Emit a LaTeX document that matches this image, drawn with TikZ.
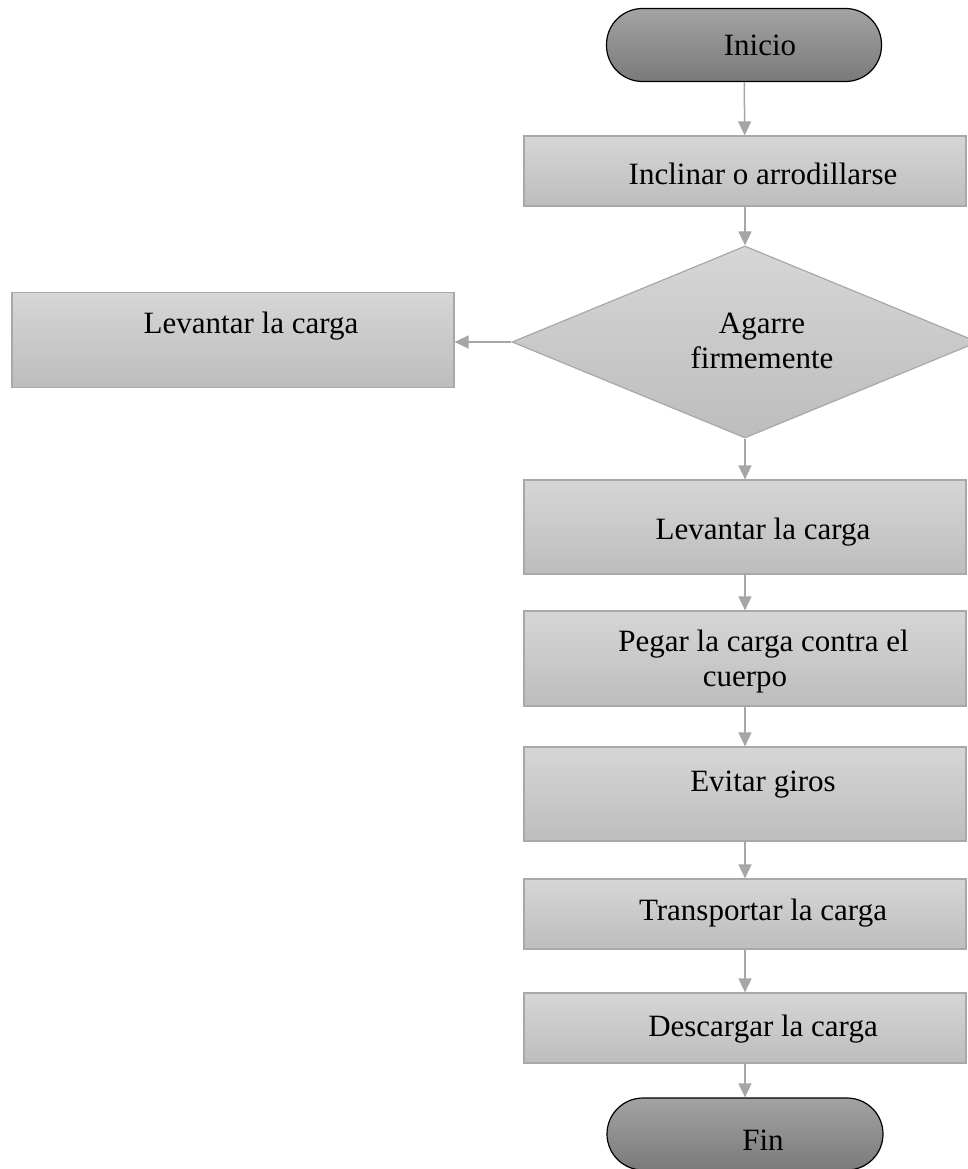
\documentclass[tikz,border=0pt]{standalone}
\usepackage{fontspec}
\setmainfont{Liberation Serif}
\usetikzlibrary{shapes.geometric,arrows.meta}
\definecolor{boxtop}{HTML}{D6D6D6}
\definecolor{boxbot}{HTML}{BDBDBD}
\definecolor{boxline}{HTML}{A8A8A8}
\definecolor{termtop}{HTML}{A3A3A3}
\definecolor{termbot}{HTML}{7A7A7A}
\definecolor{arrowgray}{HTML}{A6A6A6}
\tikzset{
  procbox/.style={rectangle, draw=boxline, line width=1.2pt, top color=boxtop, bottom color=boxbot, minimum width=442pt, inner sep=0pt},
  termbox/.style={rectangle, rounded corners=36pt, draw=black, line width=1.2pt, top color=termtop, bottom color=termbot, minimum width=275pt, minimum height=73pt, inner sep=0pt},
  decbox/.style={diamond, draw=boxline, line width=1.2pt, top color=boxtop, bottom color=boxbot, minimum width=466pt, minimum height=192pt, inner sep=0pt},
  lbl/.style={font=\fontsize{31}{35}\selectfont, inner sep=0pt, align=center},
  flow/.style={draw=arrowgray, line width=1.5pt, -{Triangle[width=13pt,length=14pt]}, arrowgray}
}
\begin{document}
\begin{tikzpicture}[x=1pt,y=-1pt]
\useasboundingbox (0,0) rectangle (968,1169);
% shapes
\node[termbox] (inicio) at (744,45) {};
\node[procbox, minimum height=70pt] (r1) at (745,171) {};
\node[decbox] (dec) at (745,342) {};
\node[procbox, minimum height=95pt] (left) at (233,340) {};
\node[procbox, minimum height=94pt] (r2) at (745,527) {};
\node[procbox, minimum height=95pt] (r3) at (745,658.5) {};
\node[procbox, minimum height=94pt] (r4) at (745,794) {};
\node[procbox, minimum height=70pt] (r5) at (745,914) {};
\node[procbox, minimum height=70pt] (r6) at (745,1028) {};
\node[termbox, minimum width=276pt, minimum height=72pt] (fin) at (745,1134) {};
% texts
\node[lbl] (tinicio) at (760,45) {Inicio};
\node[lbl] (t1) at (763,174) {Inclinar o arrodillarse};
\node[lbl] (tleft) at (251,326) {Levantar la carga};
\node[lbl] (tdec) at (762,341) {Agarre\\firmemente};
\node[lbl] (t2) at (763,532) {Levantar la carga};
\node[lbl] (t3) at (745,662) {\hspace*{37pt}Pegar la carga contra el\\cuerpo};
\node[lbl] (t4) at (763,785) {Evitar giros};
\node[lbl] (t5) at (763,913) {Transportar la carga};
\node[lbl] (t6) at (763,1029) {Descargar la carga};
\node[lbl] (tfin) at (763,1140) {Fin};
% connectors
\draw[flow] (inicio) -- (r1);
\draw[flow] (r1) -- (dec);
\draw[flow] (dec.west) -- (dec.west -| left.east);
\draw[flow] (dec) -- (r2);
\draw[flow] (r2) -- (r3);
\draw[flow] (r3) -- (r4);
\draw[flow] (r4) -- (r5);
\draw[flow] (r5) -- (r6);
\draw[flow] (r6) -- (fin);
\end{tikzpicture}
\end{document}
